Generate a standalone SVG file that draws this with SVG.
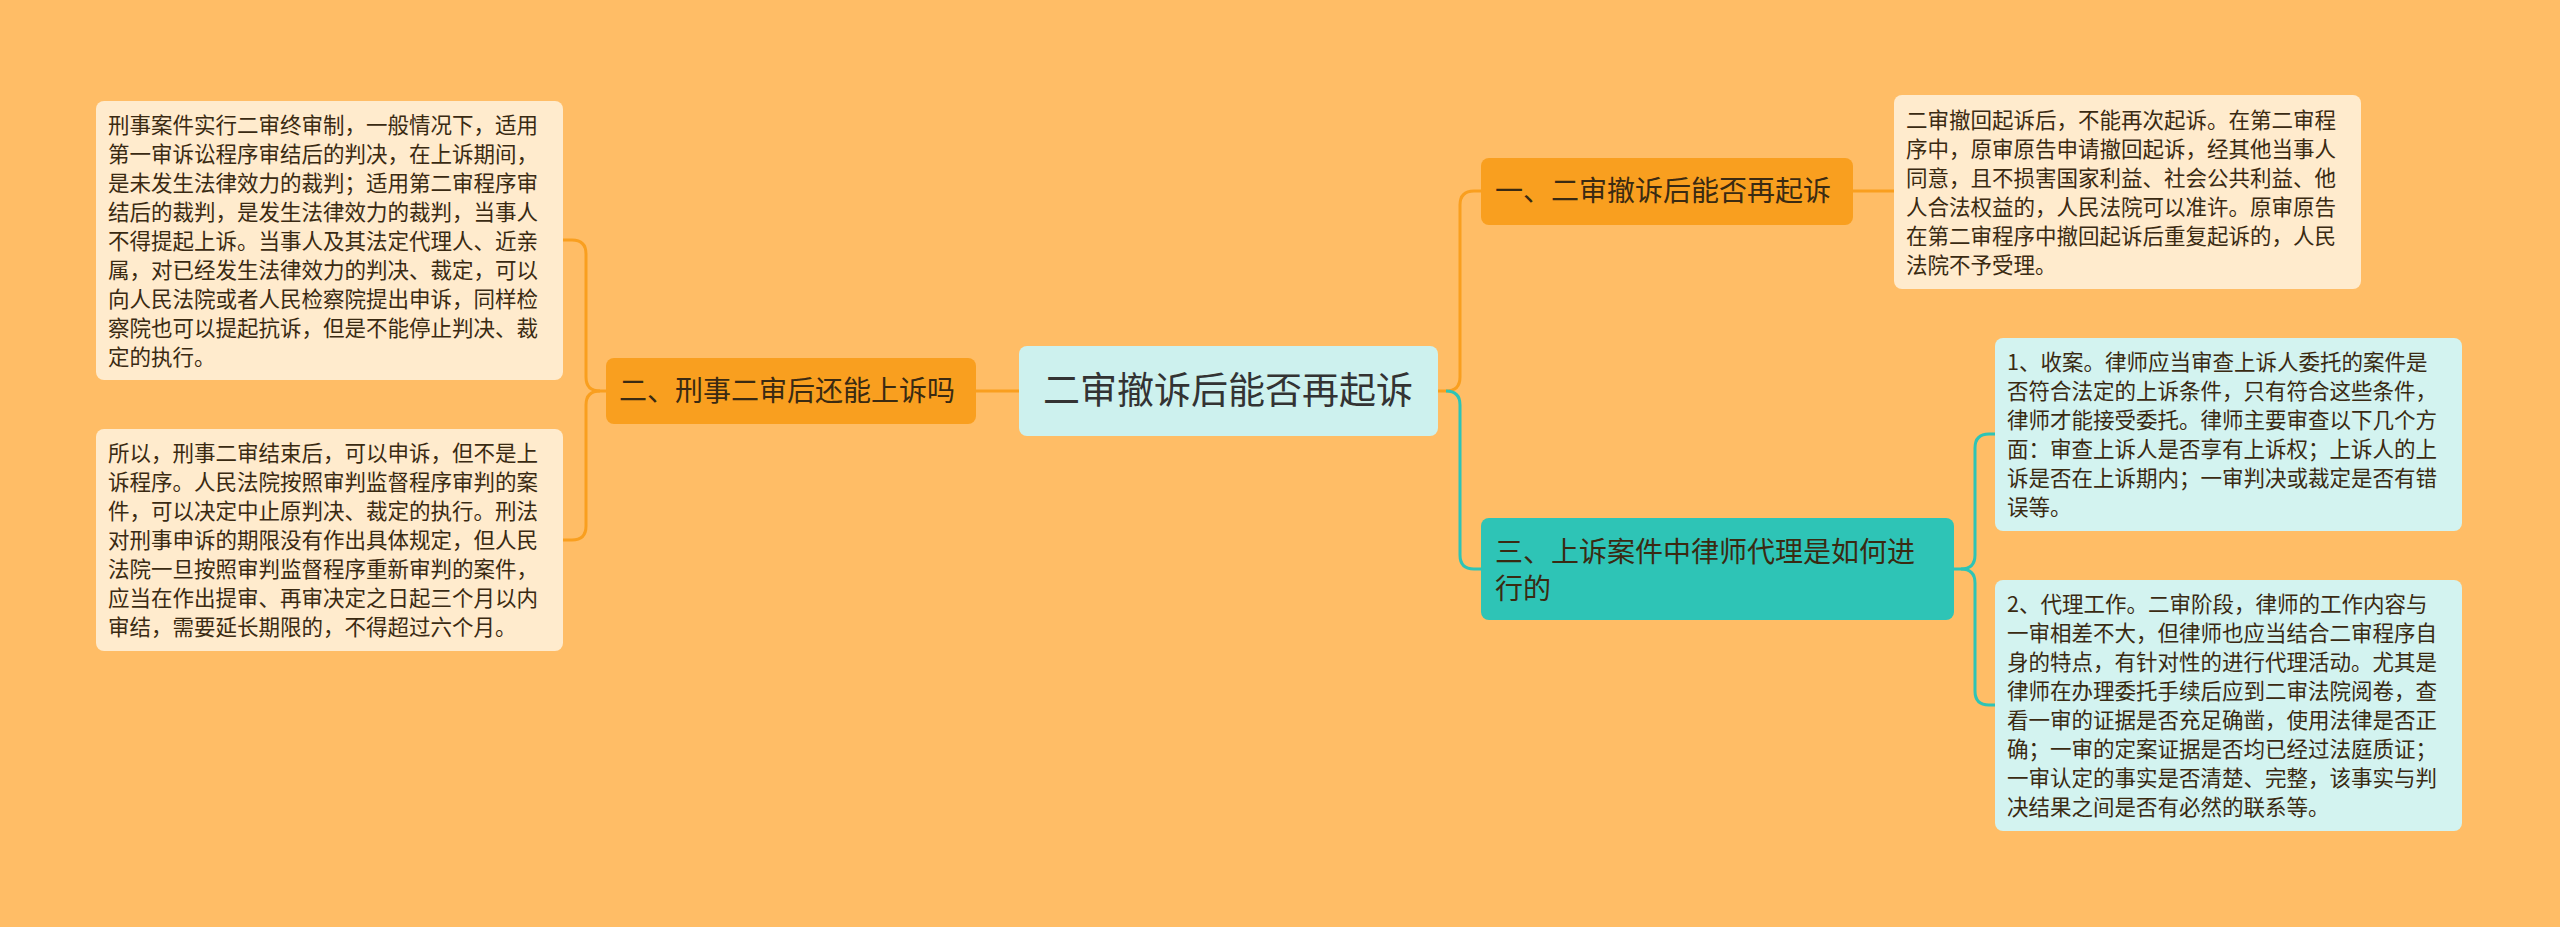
<svg xmlns="http://www.w3.org/2000/svg" width="2560" height="927" viewBox="0 0 2560 927">
<style>
text{font-family:"Noto Sans CJK SC","Noto Sans",sans-serif;fill:#3a2a12}
.s{font-size:21.5px}
.n{font-size:28px}
.c{font-size:37px;fill:#333}
.cream{fill:#FFEBCD}
.lt{fill:#D3F3F0}
.or{fill:#F99F1F}
.tl{fill:#2EC4B6}
.lo{fill:none;stroke:#F99F1F;stroke-width:3}
.lg{fill:none;stroke:#2EC4B6;stroke-width:3}
</style>
<rect width="2560" height="927" fill="#FFBD66"/>
<g id="connectors">
<path class="lo" d="M1019,391 L976,391"/>
<path class="lo" d="M606,391 L600,391 Q586,391 586,377 L586,254 Q586,240 572,240 L563,240"/>
<path class="lo" d="M600,391 Q586,391 586,405 L586,526 Q586,540 572,540 L563,540"/>
<path class="lo" d="M1438,391 L1446,391 Q1460,391 1460,377 L1460,205 Q1460,191 1474,191 L1481,191"/>
<path class="lg" d="M1446,391 Q1460,391 1460,405 L1460,555 Q1460,569 1474,569 L1481,569"/>
<path class="lo" d="M1853,191 L1894,191"/>
<path class="lg" d="M1954,569 L1961,569 Q1975,569 1975,555 L1975,448 Q1975,434 1989,434 L1995,434"/>
<path class="lg" d="M1961,569 Q1975,569 1975,583 L1975,691 Q1975,705 1989,705 L1995,705"/>
</g>
<g id="center">
<rect x="1019" y="346" width="419" height="90" rx="8" fill="#CDF1EE"/>
<text class="c" x="1228" y="404" text-anchor="middle">二审撤诉后能否再起诉</text>
</g>
<g id="node2">
<rect x="606" y="358" width="370" height="66" rx="8" class="or"/>
<text class="n" x="619" y="401">二、刑事二审后还能上诉吗</text>
</g>
<g id="node1">
<rect x="1481" y="158" width="372" height="67" rx="8" class="or"/>
<text class="n" x="1495" y="201">一、二审撤诉后能否再起诉</text>
</g>
<g id="node3">
<rect x="1481" y="518" width="473" height="102" rx="8" class="tl"/>
<text class="n" x="1495" y="562">三、上诉案件中律师代理是如何进</text>
<text class="n" x="1495" y="599">行的</text>
</g>
<g id="leftbox1">
<rect x="96" y="101" width="467" height="279" rx="8" class="cream"/>
<text class="s" x="108"><tspan x="108" y="133">刑事案件实行二审终审制，一般情况下，适用</tspan><tspan x="108" y="162">第一审诉讼程序审结后的判决，在上诉期间，</tspan><tspan x="108" y="191">是未发生法律效力的裁判；适用第二审程序审</tspan><tspan x="108" y="220">结后的裁判，是发生法律效力的裁判，当事人</tspan><tspan x="108" y="249">不得提起上诉。当事人及其法定代理人、近亲</tspan><tspan x="108" y="278">属，对已经发生法律效力的判决、裁定，可以</tspan><tspan x="108" y="307">向人民法院或者人民检察院提出申诉，同样检</tspan><tspan x="108" y="336">察院也可以提起抗诉，但是不能停止判决、裁</tspan><tspan x="108" y="365">定的执行。</tspan></text>
</g>
<g id="leftbox2">
<rect x="96" y="429" width="467" height="222" rx="8" class="cream"/>
<text class="s"><tspan x="108" y="461">所以，刑事二审结束后，可以申诉，但不是上</tspan><tspan x="108" y="490">诉程序。人民法院按照审判监督程序审判的案</tspan><tspan x="108" y="519">件，可以决定中止原判决、裁定的执行。刑法</tspan><tspan x="108" y="548">对刑事申诉的期限没有作出具体规定，但人民</tspan><tspan x="108" y="577">法院一旦按照审判监督程序重新审判的案件，</tspan><tspan x="108" y="606">应当在作出提审、再审决定之日起三个月以内</tspan><tspan x="108" y="635">审结，需要延长期限的，不得超过六个月。</tspan></text>
</g>
<g id="box1">
<rect x="1894" y="95" width="467" height="194" rx="8" class="cream"/>
<text class="s"><tspan x="1906" y="128">二审撤回起诉后，不能再次起诉。在第二审程</tspan><tspan x="1906" y="157">序中，原审原告申请撤回起诉，经其他当事人</tspan><tspan x="1906" y="186">同意，且不损害国家利益、社会公共利益、他</tspan><tspan x="1906" y="215">人合法权益的，人民法院可以准许。原审原告</tspan><tspan x="1906" y="244">在第二审程序中撤回起诉后重复起诉的，人民</tspan><tspan x="1906" y="273">法院不予受理。</tspan></text>
</g>
<g id="box3a">
<rect x="1995" y="338" width="467" height="193" rx="8" class="lt"/>
<text class="s"><tspan x="2007" y="370">1、收案。律师应当审查上诉人委托的案件是</tspan><tspan x="2007" y="399">否符合法定的上诉条件，只有符合这些条件，</tspan><tspan x="2007" y="428">律师才能接受委托。律师主要审查以下几个方</tspan><tspan x="2007" y="457">面：审查上诉人是否享有上诉权；上诉人的上</tspan><tspan x="2007" y="486">诉是否在上诉期内；一审判决或裁定是否有错</tspan><tspan x="2007" y="515">误等。</tspan></text>
</g>
<g id="box3b">
<rect x="1995" y="580" width="467" height="251" rx="8" class="lt"/>
<text class="s"><tspan x="2007" y="612">2、代理工作。二审阶段，律师的工作内容与</tspan><tspan x="2007" y="641">一审相差不大，但律师也应当结合二审程序自</tspan><tspan x="2007" y="670">身的特点，有针对性的进行代理活动。尤其是</tspan><tspan x="2007" y="699">律师在办理委托手续后应到二审法院阅卷，查</tspan><tspan x="2007" y="728">看一审的证据是否充足确凿，使用法律是否正</tspan><tspan x="2007" y="757">确；一审的定案证据是否均已经过法庭质证；</tspan><tspan x="2007" y="786">一审认定的事实是否清楚、完整，该事实与判</tspan><tspan x="2007" y="815">决结果之间是否有必然的联系等。</tspan></text>
</g>
</svg>
